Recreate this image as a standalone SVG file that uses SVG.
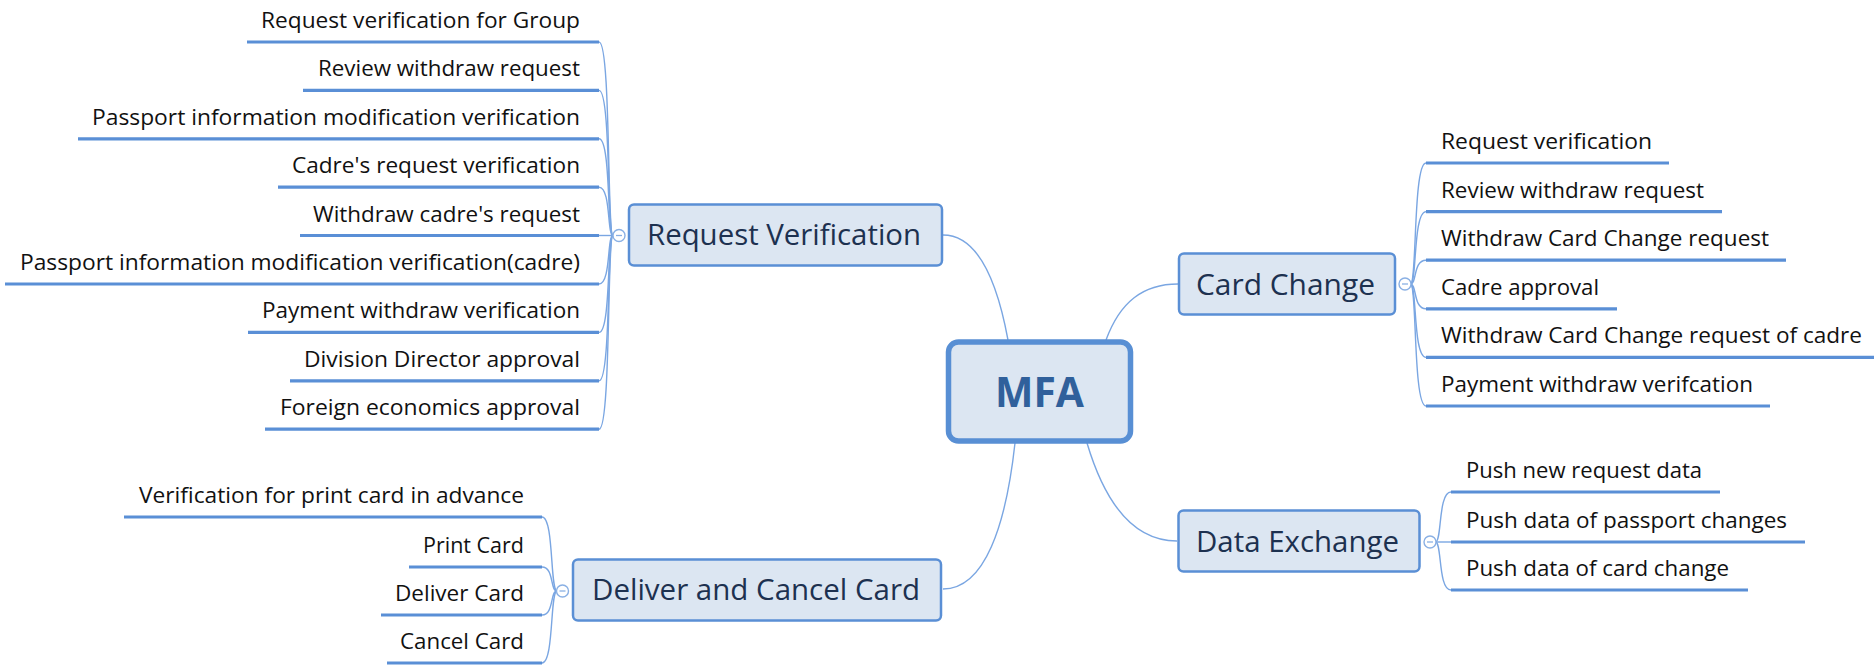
<svg xmlns="http://www.w3.org/2000/svg" width="1874" height="666" viewBox="0 0 1874 666">
<style>
.bg{fill:#ffffff}
.box{fill:#dce6f2;stroke:#5a8fd5;stroke-width:2.5}
.root{fill:#dce6f2;stroke:#588fd4;stroke-width:5.5}
.ntxt{font-family:"Open Sans","Noto Sans",sans-serif;font-size:30px;fill:#1d3150}
.rtxt{font-family:"Open Sans","Noto Sans",sans-serif;font-size:42px;font-weight:bold;fill:#30609b}
.ltxt{font-family:"Open Sans","Noto Sans",sans-serif;font-size:22px;fill:#111111}
.ul{stroke:#5a8fd6;stroke-width:3.2;fill:none;stroke-linecap:butt}
.con{stroke:#7aa6e2;stroke-width:1.4;fill:none}
.col{fill:#ffffff;stroke:#8ab0e4;stroke-width:1.4}
.minus{stroke:#8ab0e4;stroke-width:1.3}
</style>
<rect class="bg" x="0" y="0" width="1874" height="666"/>

<g id="connectors">
  <path class="con" d="M 943 235 C 975 235, 996 275, 1008 340"/>
  <path class="con" d="M 1106 340 C 1120 302, 1143 284, 1178 284"/>
  <path class="con" d="M 1087 443 C 1104 500, 1132 541, 1177 541"/>
  <path class="con" d="M 1015 443 C 1006 525, 985 589, 943 589"/>
  <path class="con" d="M 613 235.5 C 607 235.5, 611 42, 599 42"/>
  <path class="con" d="M 613 235.5 C 607 235.5, 611 90.4, 599 90.4"/>
  <path class="con" d="M 613 235.5 C 607 235.5, 611 138.8, 599 138.8"/>
  <path class="con" d="M 613 235.5 C 607 235.5, 611 187.2, 599 187.2"/>
  <path class="con" d="M 613 235.5 L 599 235.5"/>
  <path class="con" d="M 613 235.5 C 607 235.5, 611 284, 599 284"/>
  <path class="con" d="M 613 235.5 C 607 235.5, 611 332.4, 599 332.4"/>
  <path class="con" d="M 613 235.5 C 607 235.5, 611 380.8, 599 380.8"/>
  <path class="con" d="M 613 235.5 C 607 235.5, 611 429.2, 599 429.2"/>
  <path class="con" d="M 1410.5 284 C 1417 284, 1413 163, 1426 163"/>
  <path class="con" d="M 1410.5 284 C 1417 284, 1413 211.6, 1426 211.6"/>
  <path class="con" d="M 1410.5 284 C 1417 284, 1413 260.2, 1426 260.2"/>
  <path class="con" d="M 1410.5 284 C 1417 284, 1413 308.8, 1426 308.8"/>
  <path class="con" d="M 1410.5 284 C 1417 284, 1413 357.4, 1426 357.4"/>
  <path class="con" d="M 1410.5 284 C 1417 284, 1413 406, 1426 406"/>
  <path class="con" d="M 1435.5 542 C 1442 542, 1438 492, 1451 492"/>
  <path class="con" d="M 1435.5 542 L 1451 542"/>
  <path class="con" d="M 1435.5 542 C 1442 542, 1438 590, 1451 590"/>
  <path class="con" d="M 557 591 C 550 591, 554 517, 542 517"/>
  <path class="con" d="M 557 591 C 550 591, 554 567, 542 567"/>
  <path class="con" d="M 557 591 C 550 591, 554 615, 542 615"/>
  <path class="con" d="M 557 591 C 550 591, 554 663, 542 663"/>
</g>

<g id="node-mfa">
  <rect class="root" x="948.5" y="342" width="182" height="99" rx="10"/>
  <text class="rtxt" x="995" y="407" textLength="89" lengthAdjust="spacingAndGlyphs">MFA</text>
</g>

<g id="node-request-verification">
  <rect class="box" x="629" y="204.5" width="313" height="61" rx="5"/>
  <text class="ntxt" x="647" y="245" textLength="274" lengthAdjust="spacingAndGlyphs">Request Verification</text>
  <circle class="col" cx="619" cy="235.5" r="6"/>
  <line class="minus" x1="616" y1="235.5" x2="622" y2="235.5"/>
</g>

<g id="node-card-change">
  <rect class="box" x="1179" y="253.5" width="216" height="61" rx="5"/>
  <text class="ntxt" x="1196" y="295" textLength="179" lengthAdjust="spacingAndGlyphs">Card Change</text>
  <circle class="col" cx="1405" cy="284" r="6"/>
  <line class="minus" x1="1402" y1="284" x2="1408" y2="284"/>
</g>

<g id="node-data-exchange">
  <rect class="box" x="1178.5" y="510.5" width="241" height="61" rx="5"/>
  <text class="ntxt" x="1196" y="552" textLength="203" lengthAdjust="spacingAndGlyphs">Data Exchange</text>
  <circle class="col" cx="1430" cy="542" r="6"/>
  <line class="minus" x1="1427" y1="542" x2="1433" y2="542"/>
</g>

<g id="node-deliver-cancel">
  <rect class="box" x="573" y="559.5" width="368" height="61" rx="5"/>
  <text class="ntxt" x="592" y="600" textLength="328" lengthAdjust="spacingAndGlyphs">Deliver and Cancel Card</text>
  <circle class="col" cx="562.5" cy="591" r="6"/>
  <line class="minus" x1="559.5" y1="591" x2="565.5" y2="591"/>
</g>

<g id="leaf-rv-1"><line class="ul" x1="247" y1="42" x2="599" y2="42"/><text class="ltxt" x="261" y="28" textLength="319" lengthAdjust="spacingAndGlyphs">Request verification for Group</text></g>
<g id="leaf-rv-2"><line class="ul" x1="303" y1="90.4" x2="599" y2="90.4"/><text class="ltxt" x="318" y="76.4" textLength="262" lengthAdjust="spacingAndGlyphs">Review withdraw request</text></g>
<g id="leaf-rv-3"><line class="ul" x1="78" y1="138.8" x2="599" y2="138.8"/><text class="ltxt" x="92" y="124.8" textLength="488" lengthAdjust="spacingAndGlyphs">Passport information modification verification</text></g>
<g id="leaf-rv-4"><line class="ul" x1="278" y1="187.2" x2="599" y2="187.2"/><text class="ltxt" x="292" y="173.2" textLength="288" lengthAdjust="spacingAndGlyphs">Cadre's request verification</text></g>
<g id="leaf-rv-5"><line class="ul" x1="300" y1="235.5" x2="599" y2="235.5"/><text class="ltxt" x="313" y="221.5" textLength="267" lengthAdjust="spacingAndGlyphs">Withdraw cadre's request</text></g>
<g id="leaf-rv-6"><line class="ul" x1="5" y1="284" x2="599" y2="284"/><text class="ltxt" x="20" y="270" textLength="560" lengthAdjust="spacingAndGlyphs">Passport information modification verification(cadre)</text></g>
<g id="leaf-rv-7"><line class="ul" x1="248" y1="332.4" x2="599" y2="332.4"/><text class="ltxt" x="262" y="318.4" textLength="318" lengthAdjust="spacingAndGlyphs">Payment withdraw verification</text></g>
<g id="leaf-rv-8"><line class="ul" x1="290" y1="380.8" x2="599" y2="380.8"/><text class="ltxt" x="304" y="366.8" textLength="276" lengthAdjust="spacingAndGlyphs">Division Director approval</text></g>
<g id="leaf-rv-9"><line class="ul" x1="265" y1="429.2" x2="599" y2="429.2"/><text class="ltxt" x="280" y="415.2" textLength="300" lengthAdjust="spacingAndGlyphs">Foreign economics approval</text></g>

<g id="leaf-cc-1"><line class="ul" x1="1426" y1="163" x2="1669" y2="163"/><text class="ltxt" x="1441" y="149" textLength="211" lengthAdjust="spacingAndGlyphs">Request verification</text></g>
<g id="leaf-cc-2"><line class="ul" x1="1426" y1="211.6" x2="1722" y2="211.6"/><text class="ltxt" x="1441" y="197.6" textLength="263" lengthAdjust="spacingAndGlyphs">Review withdraw request</text></g>
<g id="leaf-cc-3"><line class="ul" x1="1426" y1="260.2" x2="1786" y2="260.2"/><text class="ltxt" x="1441" y="246.2" textLength="328" lengthAdjust="spacingAndGlyphs">Withdraw Card Change request</text></g>
<g id="leaf-cc-4"><line class="ul" x1="1426" y1="308.8" x2="1617" y2="308.8"/><text class="ltxt" x="1441" y="294.8" textLength="158" lengthAdjust="spacingAndGlyphs">Cadre approval</text></g>
<g id="leaf-cc-5"><line class="ul" x1="1426" y1="357.4" x2="1879" y2="357.4"/><text class="ltxt" x="1441" y="343.4" textLength="421" lengthAdjust="spacingAndGlyphs">Withdraw Card Change request of cadre</text></g>
<g id="leaf-cc-6"><line class="ul" x1="1426" y1="406" x2="1770" y2="406"/><text class="ltxt" x="1441" y="392" textLength="312" lengthAdjust="spacingAndGlyphs">Payment withdraw verifcation</text></g>

<g id="leaf-de-1"><line class="ul" x1="1451" y1="492" x2="1720" y2="492"/><text class="ltxt" x="1466" y="478" textLength="236" lengthAdjust="spacingAndGlyphs">Push new request data</text></g>
<g id="leaf-de-2"><line class="ul" x1="1451" y1="542" x2="1805" y2="542"/><text class="ltxt" x="1466" y="528" textLength="321" lengthAdjust="spacingAndGlyphs">Push data of passport changes</text></g>
<g id="leaf-de-3"><line class="ul" x1="1451" y1="590" x2="1748" y2="590"/><text class="ltxt" x="1466" y="576" textLength="263" lengthAdjust="spacingAndGlyphs">Push data of card change</text></g>

<g id="leaf-dc-1"><line class="ul" x1="124" y1="517" x2="542" y2="517"/><text class="ltxt" x="139" y="503" textLength="385" lengthAdjust="spacingAndGlyphs">Verification for print card in advance</text></g>
<g id="leaf-dc-2"><line class="ul" x1="409" y1="567" x2="542" y2="567"/><text class="ltxt" x="423" y="553" textLength="101" lengthAdjust="spacingAndGlyphs">Print Card</text></g>
<g id="leaf-dc-3"><line class="ul" x1="381" y1="615" x2="542" y2="615"/><text class="ltxt" x="395" y="601" textLength="129" lengthAdjust="spacingAndGlyphs">Deliver Card</text></g>
<g id="leaf-dc-4"><line class="ul" x1="387" y1="663" x2="542" y2="663"/><text class="ltxt" x="400" y="649" textLength="124" lengthAdjust="spacingAndGlyphs">Cancel Card</text></g>
</svg>
